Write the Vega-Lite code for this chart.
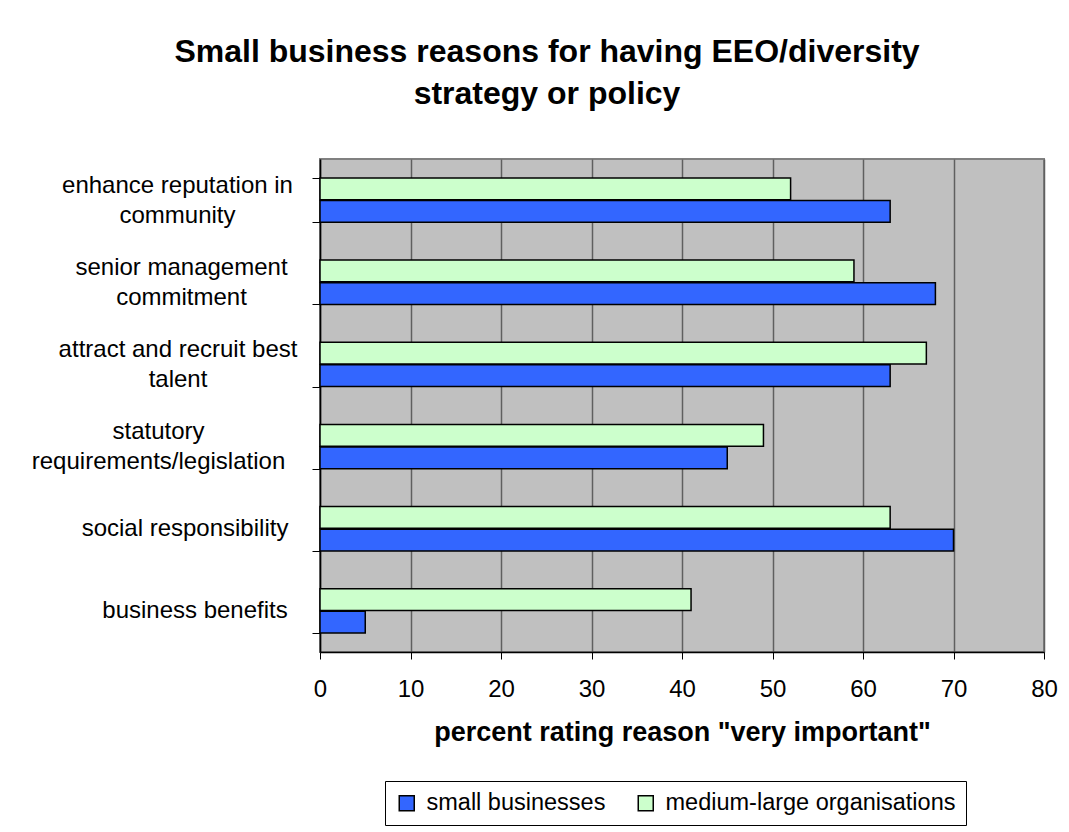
{
  "$schema": "https://vega.github.io/schema/vega-lite/v6.json",
  "width": 724,
  "height": 493,
  "autosize": {"type": "none"},
  "padding": {"left": 320, "top": 159, "right": 25, "bottom": 180},
  "background": "white",
  "title": {
    "text": ["Small business reasons for having EEO/diversity", "strategy or policy"],
    "fontSize": 32,
    "fontWeight": "bold",
    "color": "black",
    "anchor": "middle",
    "frame": "group",
    "dx": -135,
    "lineHeight": 42,
    "offset": 36
  },
  "data": {
    "values": [
      {"reason": "enhance reputation in community", "series": "small businesses", "value": 63},
      {"reason": "enhance reputation in community", "series": "medium-large organisations", "value": 52},
      {"reason": "senior management commitment", "series": "small businesses", "value": 68},
      {"reason": "senior management commitment", "series": "medium-large organisations", "value": 59},
      {"reason": "attract and recruit best talent", "series": "small businesses", "value": 63},
      {"reason": "attract and recruit best talent", "series": "medium-large organisations", "value": 67},
      {"reason": "statutory requirements/legislation", "series": "small businesses", "value": 45},
      {"reason": "statutory requirements/legislation", "series": "medium-large organisations", "value": 49},
      {"reason": "social responsibility", "series": "small businesses", "value": 70},
      {"reason": "social responsibility", "series": "medium-large organisations", "value": 63},
      {"reason": "business benefits", "series": "small businesses", "value": 5},
      {"reason": "business benefits", "series": "medium-large organisations", "value": 41}
    ]
  },
  "mark": {"type": "bar", "stroke": "black", "strokeWidth": 1.5},
  "encoding": {
    "y": {
      "field": "reason",
      "type": "nominal",
      "sort": null,
      "scale": {"paddingInner": 0.46, "paddingOuter": 0.23},
      "axis": {
        "title": null,
        "grid": false,
        "tickBand": "extent",
        "tickSize": 8,
        "tickColor": "black",
        "domainColor": "black",
        "domainWidth": 1.5,
        "labelAlign": "center",
        "labelBaseline": "middle",
        "labelPadding": {
          "condition": [
            {"test": "datum.value == 'enhance reputation in community'", "value": 135},
            {"test": "datum.value == 'senior management commitment'", "value": 131},
            {"test": "datum.value == 'attract and recruit best talent'", "value": 134.5},
            {"test": "datum.value == 'statutory requirements/legislation'", "value": 154},
            {"test": "datum.value == 'business benefits'", "value": 117.5}
          ],
          "value": 127.5
        },
        "labelOffset": {
          "condition": [
            {"test": "datum.value == 'enhance reputation in community' || datum.value == 'senior management commitment' || datum.value == 'attract and recruit best talent' || datum.value == 'statutory requirements/legislation'", "value": -15}
          ],
          "value": 0
        },
        "labelFontSize": 24,
        "labelColor": "black",
        "labelLimit": 400,
        "labelOverlap": false,
        "labelBound": false,
        "labelLineHeight": 30,
        "labelExpr": "datum.value == 'enhance reputation in community' ? ['enhance reputation in', 'community'] : datum.value == 'senior management commitment' ? ['senior management', 'commitment'] : datum.value == 'attract and recruit best talent' ? ['attract and recruit best', 'talent'] : datum.value == 'statutory requirements/legislation' ? ['statutory', 'requirements/legislation'] : datum.label"
      }
    },
    "yOffset": {
      "field": "series",
      "type": "nominal",
      "sort": ["medium-large organisations", "small businesses"],
      "scale": {"paddingInner": 0.04}
    },
    "x": {
      "field": "value",
      "type": "quantitative",
      "scale": {"domain": [0, 80], "nice": false},
      "axis": {
        "title": "percent rating reason \"very important\"",
        "titleFontSize": 27,
        "titleFontWeight": "bold",
        "titleColor": "black",
        "titlePadding": 18,
        "values": [0, 10, 20, 30, 40, 50, 60, 70, 80],
        "tickSize": 7,
        "tickColor": "black",
        "domainColor": "black",
        "domainWidth": 1.5,
        "labelFontSize": 24,
        "labelColor": "black",
        "labelPadding": 18,
        "labelFlush": false,
        "labelOverlap": false,
        "gridColor": "#5f5f5f",
        "gridWidth": 1.5
      }
    },
    "color": {
      "field": "series",
      "type": "nominal",
      "scale": {"domain": ["small businesses", "medium-large organisations"], "range": ["#3366FF", "#CCFFCC"]},
      "legend": {
        "title": null,
        "orient": "none",
        "legendX": 65,
        "legendY": 622,
        "direction": "horizontal",
        "strokeColor": "black",
        "fillColor": "white",
        "padding": 10,
        "symbolType": "square",
        "symbolSize": 225,
        "symbolStrokeColor": "black",
        "symbolStrokeWidth": 1.5,
        "symbolOpacity": 1,
        "labelFontSize": 23.5,
        "labelColor": "black",
        "labelOffset": 8,
        "columnPadding": 28,
        "labelLimit": 400
      }
    }
  },
  "config": {
    "font": "Liberation Sans",
    "view": {"stroke": "#808080", "strokeWidth": 2, "fill": "#C0C0C0"}
  }
}
